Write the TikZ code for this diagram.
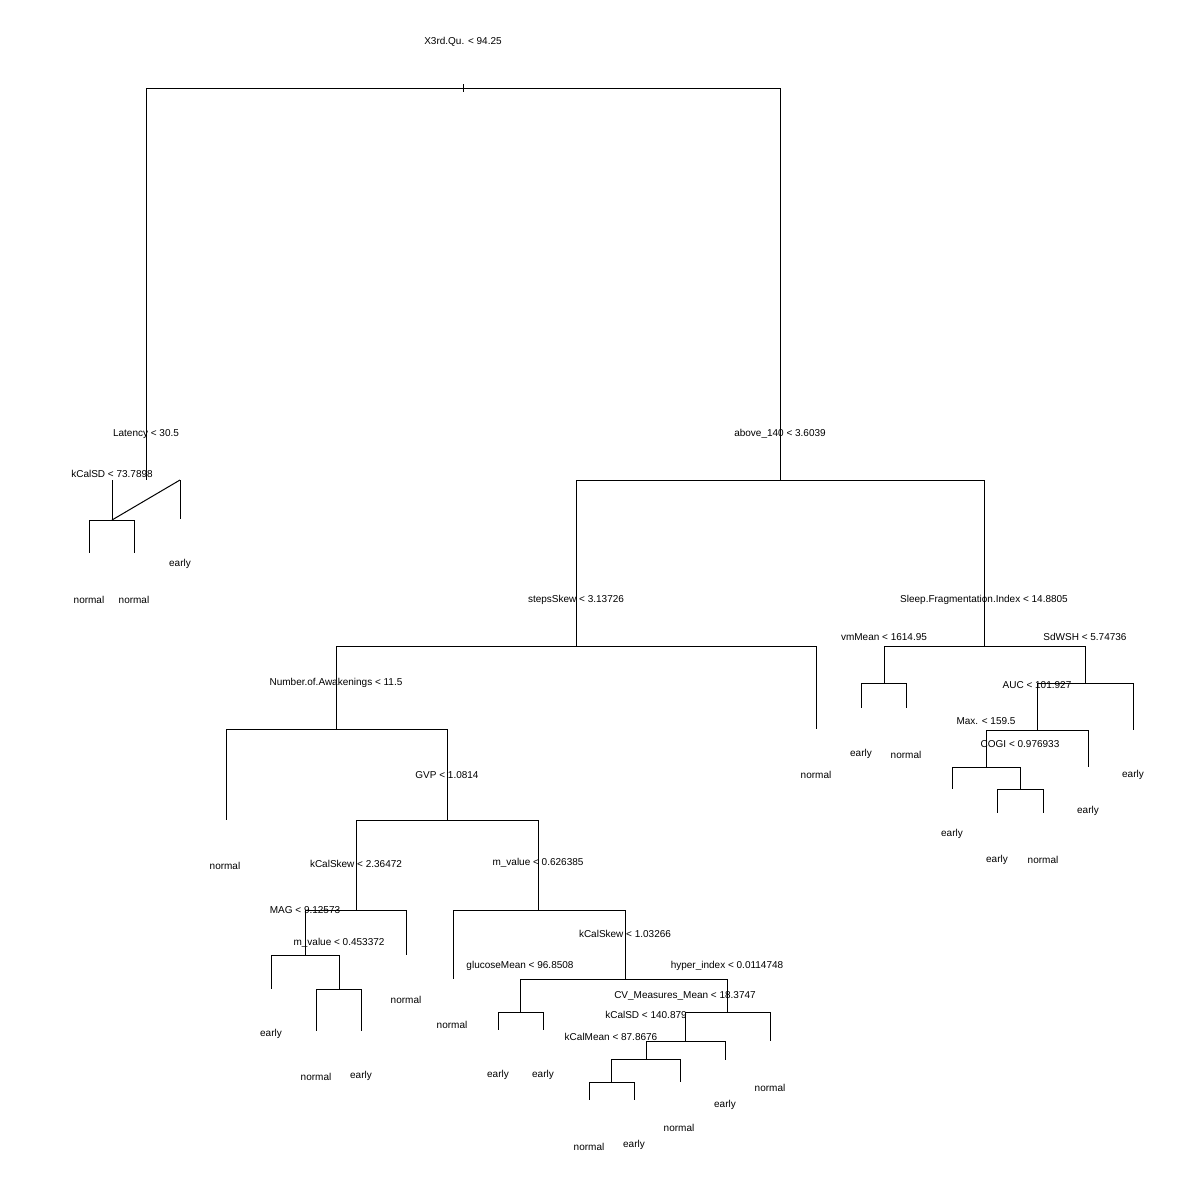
\documentclass[tikz,border=0pt]{standalone}
\usepackage{fontspec}
\setmainfont{Liberation Sans}
\begin{document}
\begin{tikzpicture}[x=0.5pt,y=-0.5pt,line width=0.5pt,
  lbl/.style={font=\fontsize{5}{6}\selectfont,inner sep=0pt}]
\useasboundingbox (0,0) rectangle (1200,1200);
\newcommand{\br}[4]{\coordinate (#1) at (#2,#3); \coordinate (#1-b) at (#2,#4); \draw (#1) -- (#1-b);}
\newcommand{\hz}[2]{\draw (#1) -- (#2);}
\newcommand{\lb}[3]{\node[lbl] at (#1,#2) {#3};}
% root
\coordinate (rt) at (463,84); \coordinate (rt-b) at (463,92); \draw (rt) -- (rt-b);
\lb{463}{42}{X3rd.Qu. < 94.25}
\br{lat}{146}{88}{480} \br{ab}{780}{88}{480} \hz{lat}{ab}
\lb{146}{434}{Latency < 30.5}
\br{kc}{112}{480}{520} \br{e1}{180}{480}{519} \hz{kc-b}{e1} \lb{180}{564}{early}
\lb{112}{474}{kCalSD < 73.7898}
\br{n1}{89}{520}{553} \br{n2}{134}{520}{553} \hz{n1}{n2}
\lb{89}{600}{normal} \lb{134}{600}{normal}
\lb{780}{434}{above\_140 < 3.6039}
\br{ss}{576}{480}{646} \br{sf}{984}{480}{646} \hz{ss}{sf}
\lb{576}{600}{stepsSkew < 3.13726}
\br{na}{336}{646}{729} \br{n3}{816}{646}{729} \hz{na}{n3} \lb{816}{775}{normal}
\lb{336}{683}{Number.of.Awakenings < 11.5}
\br{n4}{226}{729}{820} \br{gv}{447}{729}{820} \hz{n4}{gv} \lb{225}{866}{normal}
\lb{447}{775}{GVP < 1.0814}
\br{ks}{356}{820}{910} \br{mv}{538}{820}{910} \hz{ks}{mv}
\lb{356}{864}{kCalSkew < 2.36472}
\br{mag}{305}{910}{955} \br{n5}{406}{910}{955} \hz{mag}{n5} \lb{406}{1000}{normal}
\lb{305}{910}{MAG < 9.12573}
\br{e2}{271}{955}{989} \br{mv2}{339}{955}{989} \hz{e2}{mv2} \lb{271}{1034}{early}
\lb{339}{943}{m\_value < 0.453372}
\br{n6}{316}{989}{1031} \br{e3}{361}{989}{1031} \hz{n6}{e3}
\lb{316}{1077}{normal} \lb{361}{1076}{early}
\lb{538}{863}{m\_value < 0.626385}
\br{n7}{453}{910}{979} \br{ks2}{625}{910}{979} \hz{n7}{ks2} \lb{452}{1025}{normal}
\lb{625}{934}{kCalSkew < 1.03266}
\br{gm}{520}{979}{1012} \br{hi}{727}{979}{1012} \hz{gm}{hi}
\lb{520}{966}{glucoseMean < 96.8508}
\br{e4}{498}{1012}{1030} \br{e5}{543}{1012}{1030} \hz{e4}{e5}
\lb{498}{1075}{early} \lb{543}{1075}{early}
\lb{727}{966}{hyper\_index < 0.0114748}
\br{cv}{685}{1012}{1041} \br{n8}{770}{1012}{1041} \hz{cv}{n8} \lb{770}{1088}{normal}
\lb{685}{996}{CV\_Measures\_Mean < 18.3747}
\br{ksd}{646}{1041}{1059} \br{e6}{725}{1041}{1060} \hz{ksd}{e6} \lb{725}{1105}{early}
\lb{646}{1015}{kCalSD < 140.879}
\br{km}{611}{1059}{1082} \br{n9}{680}{1059}{1082} \hz{km}{n9} \lb{679}{1128}{normal}
\lb{611}{1037}{kCalMean < 87.8676}
\br{n10}{589}{1082}{1100} \br{e7}{634}{1082}{1100} \hz{n10}{e7}
\lb{589}{1147}{normal} \lb{634}{1145}{early}
\lb{984}{600}{Sleep.Fragmentation.Index < 14.8805}
\br{vm}{884}{646}{683} \br{sd}{1085}{646}{683} \hz{vm}{sd}
\lb{884}{637}{vmMean < 1614.95}
\br{e8}{861}{683}{708} \br{n11}{906}{683}{708} \hz{e8}{n11}
\lb{861}{754}{early} \lb{906}{755}{normal}
\lb{1085}{637}{SdWSH < 5.74736}
\br{auc}{1037}{683}{730} \br{e9}{1133}{683}{730} \hz{auc}{e9} \lb{1133}{775}{early}
\lb{1037}{685}{AUC < 101.927}
\br{mx}{986}{730}{767} \br{e10}{1088}{730}{767} \hz{mx}{e10} \lb{1088}{811}{early}
\lb{986}{721}{Max. < 159.5}
\br{e11}{952}{767}{789} \br{cg}{1020}{767}{789} \hz{e11}{cg} \lb{952}{834}{early}
\lb{1020}{744}{COGI < 0.976933}
\br{e12}{997}{789}{813} \br{n12}{1043}{789}{813} \hz{e12}{n12}
\lb{997}{860}{early} \lb{1043}{860}{normal}
\end{tikzpicture}
\end{document}
